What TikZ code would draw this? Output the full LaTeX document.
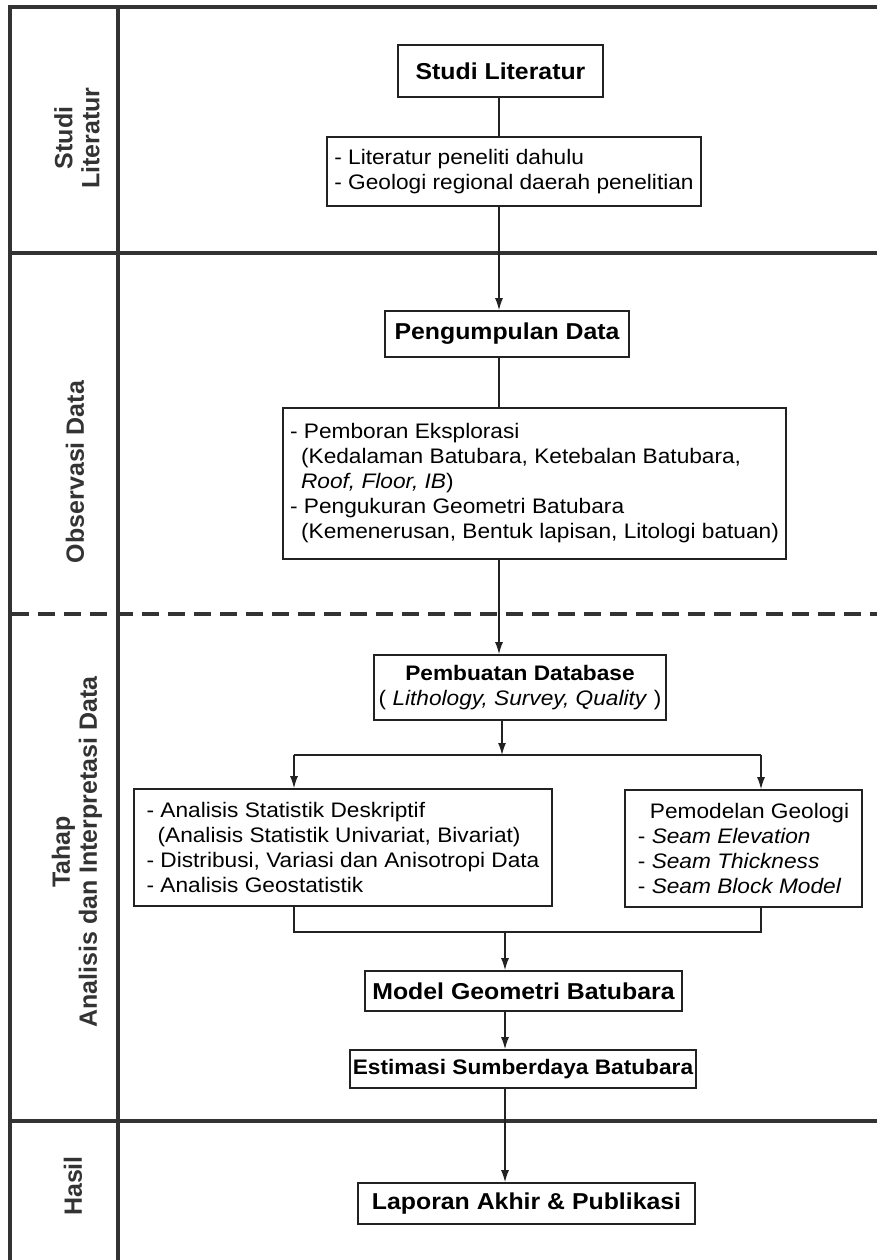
\documentclass[tikz,border=0pt]{standalone}
\usepackage{fontspec}
\setmainfont[FakeStretch=1.08]{Liberation Sans}
\newfontfamily\sidefont{Liberation Sans}
\usetikzlibrary{arrows.meta}
\definecolor{darkline}{RGB}{51,51,51}
\definecolor{boxline}{RGB}{34,34,34}

\begin{document}
\begin{tikzpicture}[x=1pt,y=-1pt,
      frame/.style={darkline,line width=3.5pt},
      sep/.style={darkline,line width=4pt,dash pattern=on 17pt off 9pt},
      side/.style={rotate=90,align=center,text=darkline,font=\sidefont\bfseries\fontsize{25}{27}\selectfont},
      head/.style={draw=boxline,line width=1.6pt,inner sep=0pt,font=\bfseries\fontsize{23}{27}\selectfont},
      info/.style={draw=boxline,line width=1.6pt,inner sep=0pt,align=left,font=\fontsize{21}{25}\selectfont},
      flow/.style={->,>={Latex[length=12pt,width=8pt]},boxline,line width=1.4pt},
      link/.style={boxline,line width=1.4pt}]

      \useasboundingbox (0,0) rectangle (877,1260);

      \draw[frame] (877,7) -- (10,7) -- (10,1260);
      \draw[frame] (118,7) -- (118,1260);
      \draw[frame] (10,253) -- (877,253);
      \draw[sep] (12,614) -- (877,614);
      \draw[frame] (10,1121) -- (877,1121);

      \node[side] (sidelit) at (77,138) {Studi\\Literatur};
      \node[side] (sideobs) at (75,472) {Observasi Data};
      \node[side] (sideana) at (77,852) {Tahap\\Analisis dan Interpretasi Data};
      \node[side] (sidehasil) at (73,1186) {Hasil};

      \node[head,minimum width=205pt,minimum height=52pt] (studi) at (500.5,71) {Studi Literatur};
      \node[info,minimum width=374pt,minimum height=69pt] (pustaka) at (514,171.5) {- Literatur peneliti dahulu\\- Geologi regional daerah penelitian};
      \node[head,minimum width=244pt,minimum height=46pt] (kumpul) at (507,334) {Pengumpulan Data};
      \node[info,minimum width=503pt,minimum height=151pt] (bor) at (534.5,483.5) {- Pemboran Eksplorasi\\\hspace*{11pt}(Kedalaman Batubara, Ketebalan Batubara,\\\hspace*{11pt}\textit{Roof, Floor, IB})\\- Pengukuran Geometri Batubara\\\hspace*{11pt}(Kemenerusan, Bentuk lapisan, Litologi batuan)};
      \node[info,align=center,minimum width=292pt,minimum height=65pt] (database) at (520,687.5) {\textbf{Pembuatan Database}\\( \textit{Lithology, Survey, Quality} )};
      \node[info,minimum width=418pt,minimum height=117pt] (statistik) at (343,847.5) {- Analisis Statistik Deskriptif\\\hspace*{11pt}(Analisis Statistik Univariat, Bivariat)\\- Distribusi, Variasi dan Anisotropi Data\\- Analisis Geostatistik};
      \node[info,minimum width=237pt,minimum height=117pt] (geologi) at (743.5,848.5) {\hspace*{12pt}Pemodelan Geologi\\- \textit{Seam Elevation}\\- \textit{Seam Thickness}\\- \textit{Seam Block Model}};
      \node[head,minimum width=317pt,minimum height=40pt] (model) at (523.5,991) {Model Geometri Batubara};
      \node[head,font=\bfseries\fontsize{21}{25}\selectfont,minimum width=346pt,minimum height=38pt] (estimasi) at (523,1069) {Estimasi Sumberdaya Batubara};
      \node[head,minimum width=337pt,minimum height=41pt] (laporan) at (526.5,1203.5) {Laporan Akhir \& Publikasi};

      \coordinate (spine) at (499,0);
      \draw[link] (studi.south -| spine) -- (pustaka.north -| spine);
      \draw[flow] (pustaka.south -| spine) -- (kumpul.north -| spine);
      \draw[link] (kumpul.south -| spine) -- (bor.north -| spine);
      \draw[flow] (bor.south -| spine) -- (database.north -| spine);

      \coordinate (fork) at (502,755);
      \coordinate (lfork) at (294,755);
      \coordinate (rfork) at (761,755);
      \draw[flow] (database.south -| fork) -- (fork);
      \draw[link] (lfork) -- (rfork);
      \draw[flow] (lfork) -- (lfork |- statistik.north);
      \draw[flow] (rfork) -- (rfork |- geologi.north);

      \coordinate (join) at (505,932);
      \coordinate (ljoin) at (294,932);
      \coordinate (rjoin) at (761,932);
      \draw[link] (statistik.south -| ljoin) -- (ljoin) -- (rjoin) -- (geologi.south -| rjoin);
      \draw[flow] (join) -- (model.north -| join);
      \draw[flow] (model.south -| join) -- (estimasi.north -| join);
      \draw[flow] (estimasi.south -| join) -- (laporan.north -| join);

    \end{tikzpicture}
\end{document}
